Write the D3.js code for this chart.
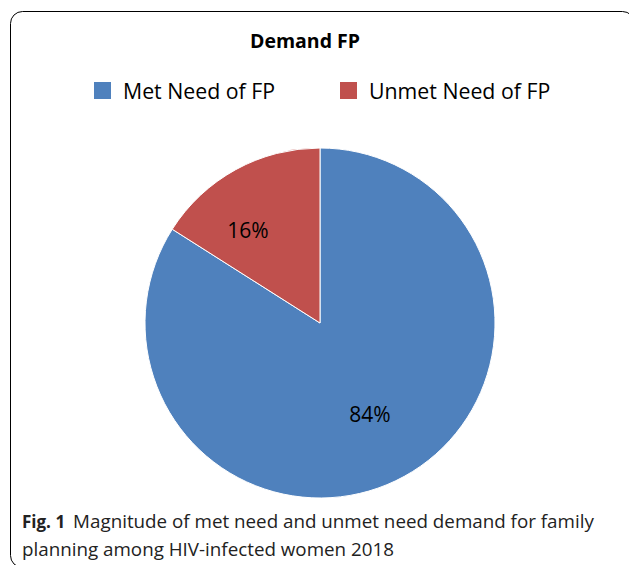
<!DOCTYPE html>
<html>
<head>
<meta charset="utf-8">
<script src="https://cdn.jsdelivr.net/npm/d3@7"></script>
<style>
  body { margin: 0; background: #fff; }
  svg { display: block; }
</style>
</head>
<body>
<svg id="chart" width="629" height="565"></svg>
<script>
const categories = ['Met Need of FP', 'Unmet Need of FP'];
const values = [84, 16];
const colors = ['#4F81BD', '#C0504D'];

const svg = d3.select('#chart');

// chart frame (cropped at right / bottom)
svg.append('rect')
  .attr('x', 10.5).attr('y', 11.5)
  .attr('width', 624).attr('height', 556)
  .attr('rx', 12)
  .attr('fill', 'none')
  .attr('stroke', '#000')
  .attr('stroke-width', 1);

svg.append('text')
  .attr('x', 305).attr('y', 48)
  .attr('text-anchor', 'middle')
  .attr('font-family', 'Open Sans, sans-serif')
  .attr('font-weight', 'bold')
  .attr('font-size', 19.5)
  .text('Demand FP');

const legendX = [94, 340];
const legend = svg.selectAll('g.legend')
  .data(categories)
  .enter()
  .append('g')
  .attr('class', 'legend')
  .attr('transform', (d, i) => `translate(${legendX[i]},82)`);

legend.append('rect')
  .attr('width', 17).attr('height', 17)
  .attr('fill', (d, i) => colors[i]);

legend.append('text')
  .attr('x', 29).attr('y', 17)
  .attr('font-family', 'Open Sans, sans-serif')
  .attr('font-size', 21.3)
  .text(d => d);

const radius = 175;
const pie = d3.pie().sort(null).value(d => d);
const arc = d3.arc().innerRadius(0).outerRadius(radius);

const g = svg.append('g').attr('transform', 'translate(320,323)');

const slices = g.selectAll('g.slice')
  .data(pie(values))
  .enter()
  .append('g')
  .attr('class', 'slice');

slices.append('path')
  .attr('d', arc)
  .attr('fill', (d, i) => colors[i])
  .attr('stroke', '#fff')
  .attr('stroke-width', 1);

const labelPos = [[50, 99], [-72, -85]];
slices.append('text')
  .attr('x', (d, i) => labelPos[i][0])
  .attr('y', (d, i) => labelPos[i][1])
  .attr('text-anchor', 'middle')
  .attr('font-family', 'Open Sans, sans-serif')
  .attr('font-size', 21)
  .text(d => d.data + '%');

const caption = svg.append('g')
  .attr('font-family', 'Open Sans, sans-serif')
  .attr('font-size', 18.8)
  .attr('fill', '#222');

const line1 = caption.append('text').attr('x', 22).attr('y', 528);
line1.append('tspan').attr('font-weight', 'bold').attr('font-size', 17).text('Fig. 1');
line1.append('tspan').attr('dx', 8).text('Magnitude of met need and unmet need demand for family');

caption.append('text').attr('x', 22).attr('y', 556)
  .text('planning among HIV-infected women 2018');
</script>
</body>
</html>
